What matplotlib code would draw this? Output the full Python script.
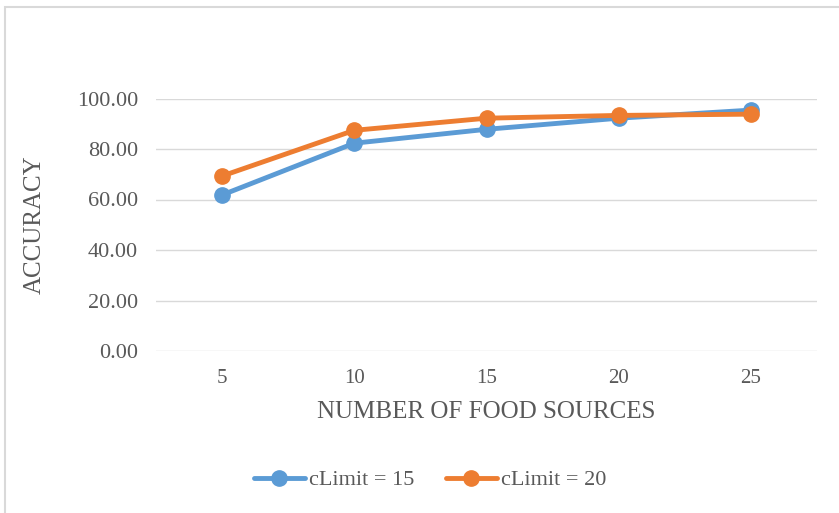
import matplotlib
matplotlib.use("Agg")
import matplotlib.pyplot as plt
from matplotlib.patches import Rectangle

# datos
food_sources = ["5", "10", "15", "20", "25"]
climit_15 = [61.8, 82.3, 87.8, 92.2, 95.4]
climit_20 = [69.3, 87.4, 92.2, 93.3, 93.8]
yticks = [0, 20, 40, 60, 80, 100]

W, H = 839, 513
fig = plt.figure(figsize=(W / 100, H / 100), dpi=100)
plt.rcParams["font.family"] = ["Liberation Serif", "DejaVu Serif"]
gray = "#595959"

# borde del area del grafico (cortado a derecha y abajo)
fig.patches.append(Rectangle((4.5 / W, -0.05), 1.1, 1 - 6.5 / H + 0.05,
                             transform=fig.transFigure, fill=False,
                             edgecolor="#d9d9d9", linewidth=1.5))

ax = fig.add_axes([156 / W, 1 - 351 / H, (817 - 156) / W, (351 - 98.5) / H])
x = range(len(food_sources))
ax.plot(x, climit_15, color="#5b9bd5", linewidth=3.5, marker="o", markersize=11,
        label="cLimit = 15", solid_capstyle="round")
ax.plot(x, climit_20, color="#ed7d31", linewidth=3.5, marker="o", markersize=11,
        label="cLimit = 20", solid_capstyle="round")

ax.set_xlim(-0.5, len(food_sources) - 0.5)
ax.set_ylim(0, 100)
ax.set_xticks(list(x))
ax.set_xticklabels(food_sources)
ax.set_yticks(yticks)
ax.set_yticklabels(["%.2f" % v for v in yticks])
ax.grid(axis="y", color="#d9d9d9", linewidth=1)
ax.set_axisbelow(True)
for s in ax.spines.values():
    s.set_visible(False)
ax.tick_params(length=0, colors=gray)
ax.tick_params(axis="x", pad=13, labelsize=15)
ax.tick_params(axis="y", pad=13, labelsize=16)

ax.set_xlabel("NUMBER OF FOOD SOURCES", fontsize=18, color=gray, labelpad=9)
ax.set_ylabel("ACCURACY", fontsize=18, color=gray, labelpad=22)

fig.legend(loc="center", bbox_to_anchor=(430 / W, 1 - 480 / H), ncol=2,
           frameon=False, fontsize=16, labelcolor=gray, handlelength=2.3,
           handletextpad=0.2, columnspacing=1.4)

plt.savefig("out.png", dpi=100)
